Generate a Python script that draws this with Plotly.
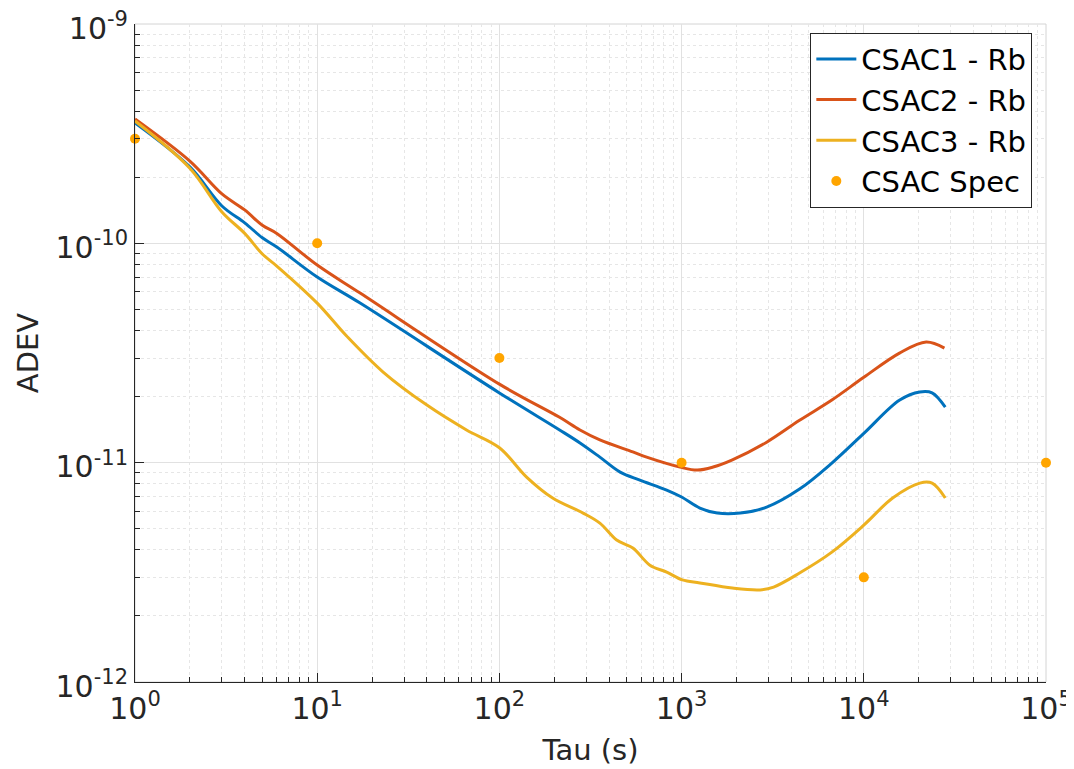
import plotly.graph_objects as go

# ---- data ----
tau_c1 = [1, 2, 3, 4, 5, 6, 10, 17.2, 100, 214, 277, 356, 460, 590, 828, 1000, 1260, 1570,
          2100, 2930, 4440, 6680, 10000, 15750, 20300, 23700, 28000]
adev_c1 = [3.54e-10, 2.23e-10, 1.48e-10, 1.24e-10, 1.06e-10, 9.62e-11, 7.02e-11, 5.34e-11,
           2.08e-11, 1.41e-11, 1.23e-11, 1.06e-11, 9.06e-12, 8.33e-12, 7.50e-12, 6.97e-12,
           6.21e-12, 5.89e-12, 5.89e-12, 6.27e-12, 7.58e-12, 9.96e-12, 1.36e-11, 1.93e-11,
           2.10e-11, 2.08e-11, 1.79e-11]

tau_c2 = [1, 2, 3, 4, 5, 6, 10, 17.2, 100, 214, 277, 356, 540, 643, 980, 1220, 1490,
          1900, 2930, 4440, 6680, 10000, 15700, 22000, 27700]
adev_c2 = [3.69e-10, 2.37e-10, 1.68e-10, 1.42e-10, 1.21e-10, 1.11e-10, 7.96e-11, 5.93e-11,
           2.28e-11, 1.61e-11, 1.41e-11, 1.27e-11, 1.12e-11, 1.06e-11, 9.55e-12, 9.25e-12,
           9.55e-12, 1.03e-11, 1.24e-11, 1.56e-11, 1.93e-11, 2.45e-11, 3.16e-11, 3.55e-11,
           3.33e-11]

tau_c3 = [1, 2, 3, 4, 5, 6, 10, 14.5, 23, 40, 66, 100, 141, 196, 288, 356, 440, 540, 670,
          828, 1010, 1260, 1900, 2700, 3200, 4440, 6680, 10000, 14400, 20300, 23700, 28000]
adev_c3 = [3.61e-10, 2.20e-10, 1.39e-10, 1.11e-10, 8.94e-11, 7.88e-11, 5.34e-11, 3.78e-11,
           2.59e-11, 1.83e-11, 1.41e-11, 1.17e-11, 8.60e-12, 6.90e-12, 5.89e-12, 5.30e-12,
           4.44e-12, 4.08e-12, 3.41e-12, 3.17e-12, 2.92e-12, 2.83e-12, 2.68e-12, 2.63e-12,
           2.71e-12, 3.14e-12, 3.91e-12, 5.19e-12, 6.90e-12, 8.07e-12, 8.07e-12, 6.90e-12]

tau_spec = [1, 10, 100, 1000, 10000, 100000]
adev_spec = [3e-10, 1e-10, 3e-11, 1e-11, 3e-12, 1e-11]

x_tickvals = [1, 10, 100, 1000, 10000, 100000]
x_ticktext = ["10<sup>0</sup>", "10<sup>1</sup>", "10<sup>2</sup>", "10<sup>3</sup>",
              "10<sup>4</sup>", "10<sup>5</sup>"]
y_tickvals = [1e-12, 1e-11, 1e-10, 1e-9]
y_ticktext = ["10<sup>-12</sup>", "10<sup>-11</sup>", "10<sup>-10</sup>", "10<sup>-9</sup>"]

series_names = ["CSAC1 - Rb", "CSAC2 - Rb", "CSAC3 - Rb", "CSAC Spec"]
colors = ["#0072BD", "#D95319", "#EDB120", "#FFA500"]

x_minor = [m * 10 ** e for e in range(0, 5) for m in range(2, 10)]
y_minor = [m * 10.0 ** e for e in range(-12, -9) for m in range(2, 10)]

fig = go.Figure()
for t, a, name, col in zip([tau_c1, tau_c2, tau_c3], [adev_c1, adev_c2, adev_c3],
                           series_names[:3], colors[:3]):
    fig.add_trace(go.Scatter(x=t, y=a, mode="lines", name=name,
                             line=dict(color=col, width=3, shape="spline", smoothing=1.0)))
fig.add_trace(go.Scatter(x=tau_spec, y=adev_spec, mode="markers", name=series_names[3],
                         marker=dict(color=colors[3], size=10), cliponaxis=False))

axis_col = "#262626"
grid_major = "#e1e1e1"
grid_minor = "#e6e6e6"
FONT = "DejaVu Sans"

fig.update_xaxes(type="log", range=[0, 5], tickmode="array", tickvals=x_tickvals,
                 ticktext=x_ticktext, showline=True, linecolor=axis_col, linewidth=1,
                 ticks="inside", ticklen=9, tickcolor=axis_col, showgrid=True,
                 gridcolor=grid_major, gridwidth=1, zeroline=False, automargin=False,
                 ticklabeloverflow="allow",
                 tickfont=dict(family=FONT, size=30, color=axis_col),
                 minor=dict(tickmode="array", tickvals=x_minor, ticks="inside", ticklen=5,
                            tickcolor=axis_col, showgrid=True, gridcolor=grid_minor,
                            griddash="dot", gridwidth=1),
                 title=dict(text="Tau (s)", font=dict(family=FONT, size=29,
                                                      color=axis_col), standoff=14))
fig.update_yaxes(type="log", range=[-12, -9], tickmode="array", tickvals=y_tickvals,
                 ticktext=y_ticktext, showline=True, linecolor=axis_col, linewidth=1,
                 ticks="inside", ticklen=9, tickcolor=axis_col, showgrid=True,
                 gridcolor=grid_major, gridwidth=1, zeroline=False, automargin=False,
                 ticklabeloverflow="allow", ticklabelshift=4,
                 tickfont=dict(family=FONT, size=30, color=axis_col),
                 minor=dict(tickmode="array", tickvals=y_minor, ticks="inside", ticklen=5,
                            tickcolor=axis_col, showgrid=True, gridcolor=grid_minor,
                            griddash="dot", gridwidth=1),
                 title=dict(text="ADEV", font=dict(family=FONT, size=29,
                                                   color=axis_col), standoff=8))

fig.add_shape(type="rect", xref="paper", yref="paper", x0=0, x1=1, y0=0, y1=1,
              line=dict(color="#d4d4d4", width=1), layer="below")

# page has an 8px body margin; figure sized so the plot box lands where the reference has it
fig.update_layout(
    width=1066, height=761,
    margin=dict(l=127, r=28, t=16, b=87),
    paper_bgcolor="white", plot_bgcolor="white",
    font=dict(family=FONT, color=axis_col),
    legend=dict(x=0.985, y=0.987, xanchor="right", yanchor="top",
                bgcolor="white", bordercolor=axis_col, borderwidth=1,
                font=dict(family=FONT, size=29, color="black"),
                tracegroupgap=0, itemwidth=40),
    showlegend=True,
)

fig.write_html("out.html")
